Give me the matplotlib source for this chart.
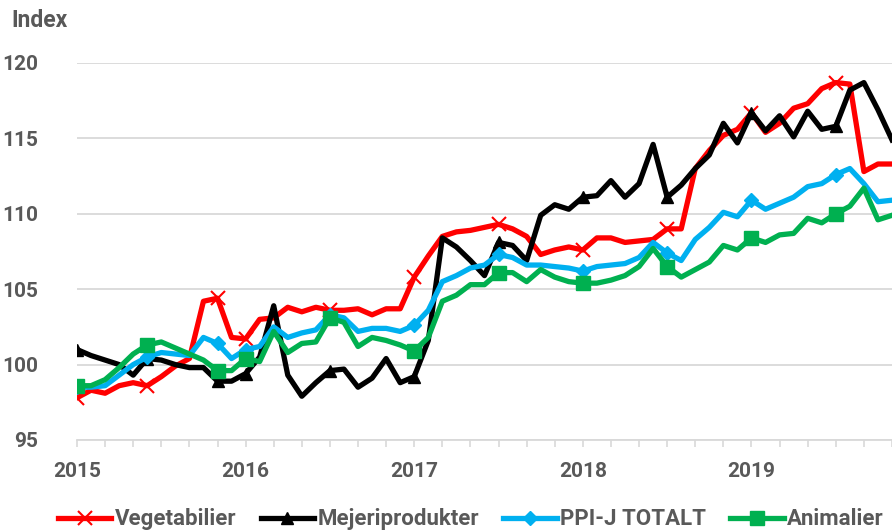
import numpy as np
import matplotlib
matplotlib.use('Agg')
import matplotlib.pyplot as plt

# Monthly index values, Jan 2015 .. Nov 2019
vegetabilier = [97.8, 98.3, 98.1, 98.6, 98.8, 98.6, 99.2, 99.9, 100.4, 104.2,
                104.4, 101.8, 101.7, 103.0, 103.1, 103.8, 103.5, 103.8, 103.6, 103.6,
                103.7, 103.3, 103.7, 103.7, 105.8, 107.2, 108.5, 108.8, 108.9, 109.1,
                109.3, 109.0, 108.5, 107.3, 107.6, 107.8, 107.6, 108.4, 108.4, 108.1,
                108.2, 108.3, 109.0, 109.0, 113.0, 114.2, 115.2, 115.6, 116.7, 115.4,
                116.0, 117.0, 117.3, 118.3, 118.7, 118.6, 112.8, 113.3, 113.3]
mejeri = [101.0, 100.6, 100.3, 100.0, 99.3, 100.4, 100.3, 100.0, 99.8, 99.8,
          98.9, 98.9, 99.4, 100.5, 103.9, 99.3, 97.9, 98.8, 99.6, 99.7,
          98.5, 99.1, 100.4, 98.8, 99.2, 101.6, 108.4, 107.8, 106.9, 105.9,
          108.1, 107.9, 106.9, 109.9, 110.6, 110.3, 111.1, 111.2, 112.2, 111.1,
          112.0, 114.6, 111.1, 111.9, 113.0, 113.9, 116.0, 114.7, 116.7, 115.5,
          116.5, 115.1, 116.8, 115.6, 115.8, 118.2, 118.7, 116.9, 114.9]
ppi_totalt = [98.5, 98.5, 98.6, 99.3, 100.0, 100.5, 100.8, 100.7, 100.6, 101.8,
              101.4, 100.4, 101.0, 101.2, 102.5, 101.8, 102.1, 102.3, 103.3, 103.1,
              102.2, 102.4, 102.4, 102.2, 102.6, 103.6, 105.5, 105.9, 106.4, 106.6,
              107.3, 107.1, 106.6, 106.6, 106.5, 106.4, 106.2, 106.5, 106.6, 106.7,
              107.1, 108.1, 107.4, 106.9, 108.3, 109.1, 110.1, 109.8, 110.9, 110.3,
              110.7, 111.1, 111.8, 112.0, 112.6, 113.0, 112.0, 110.8, 110.9]
animalier = [98.6, 98.6, 99.0, 99.8, 100.7, 101.3, 101.5, 101.1, 100.7, 100.3,
             99.6, 99.6, 100.4, 100.2, 102.2, 100.8, 101.4, 101.5, 103.1, 102.8,
             101.2, 101.8, 101.6, 101.3, 100.9, 101.8, 104.2, 104.6, 105.3, 105.3,
             106.1, 106.1, 105.5, 106.3, 105.8, 105.5, 105.4, 105.4, 105.6, 105.9,
             106.5, 107.7, 106.5, 105.8, 106.3, 106.8, 107.9, 107.6, 108.4, 108.1,
             108.6, 108.7, 109.7, 109.4, 110.0, 110.5, 111.7, 109.6, 109.9]
years = ['2015', '2016', '2017', '2018', '2019']
marker_months = [0, 5, 10, 12, 18, 24, 30, 36, 42, 48, 54]

months = np.arange(len(vegetabilier))
grey = '#595959'

plt.rcParams['font.family'] = ['Roboto', 'DejaVu Sans']
plt.rcParams['font.weight'] = 'bold'

fig = plt.figure(figsize=(8.92, 5.31), dpi=100)
ax = fig.add_axes([0.0863, 0.1714, 0.9137, 0.7100])

ax.plot(months, vegetabilier, color='#FF0000', lw=3.8, marker='x', ms=10,
        mew=1.5, markevery=marker_months, label='Vegetabilier', zorder=3)
ax.plot(months, mejeri, color='#000000', lw=3.8, marker='^', ms=9,
        markevery=marker_months, label='Mejeriprodukter', zorder=4)
ax.plot(months, ppi_totalt, color='#00B0F0', lw=3.8, marker='D', ms=7,
        markevery=marker_months, label='PPI-J TOTALT', zorder=5)
ax.plot(months, animalier, color='#00B050', lw=3.8, marker='s', ms=10,
        markevery=marker_months, label='Animalier', zorder=6)

ax.set_xlim(0, 58)
ax.set_ylim(95, 120)
ax.set_yticks([95, 100, 105, 110, 115, 120])
ax.set_xticks(np.arange(0, 59, 2))
ax.set_xticklabels([years[i // 12] if i % 12 == 0 else '' for i in range(0, 59, 2)])
ax.grid(axis='y', color='#D9D9D9', lw=1.3)
ax.set_axisbelow(True)
for s in ['top', 'right', 'left']:
    ax.spines[s].set_visible(False)
ax.spines['bottom'].set_color('#D9D9D9')
ax.spines['bottom'].set_linewidth(1.3)
ax.tick_params(axis='x', length=5, color='#D9D9D9', width=1.2, pad=11,
               labelsize=15, labelcolor=grey)
ax.tick_params(axis='y', length=0, pad=28, labelsize=15, labelcolor=grey)

fig.text(0.013, 0.962, 'Index', fontsize=16.5, color=grey, fontweight='bold',
         va='center', ha='left')

leg = fig.legend(loc='center', bbox_to_anchor=(0.528, 0.022), ncol=4, frameon=False,
                 fontsize=16, handlelength=2.4, handletextpad=0.15,
                 columnspacing=1.1)
for t in leg.get_texts():
    t.set_color(grey)

fig.savefig('out.png', dpi=100)
